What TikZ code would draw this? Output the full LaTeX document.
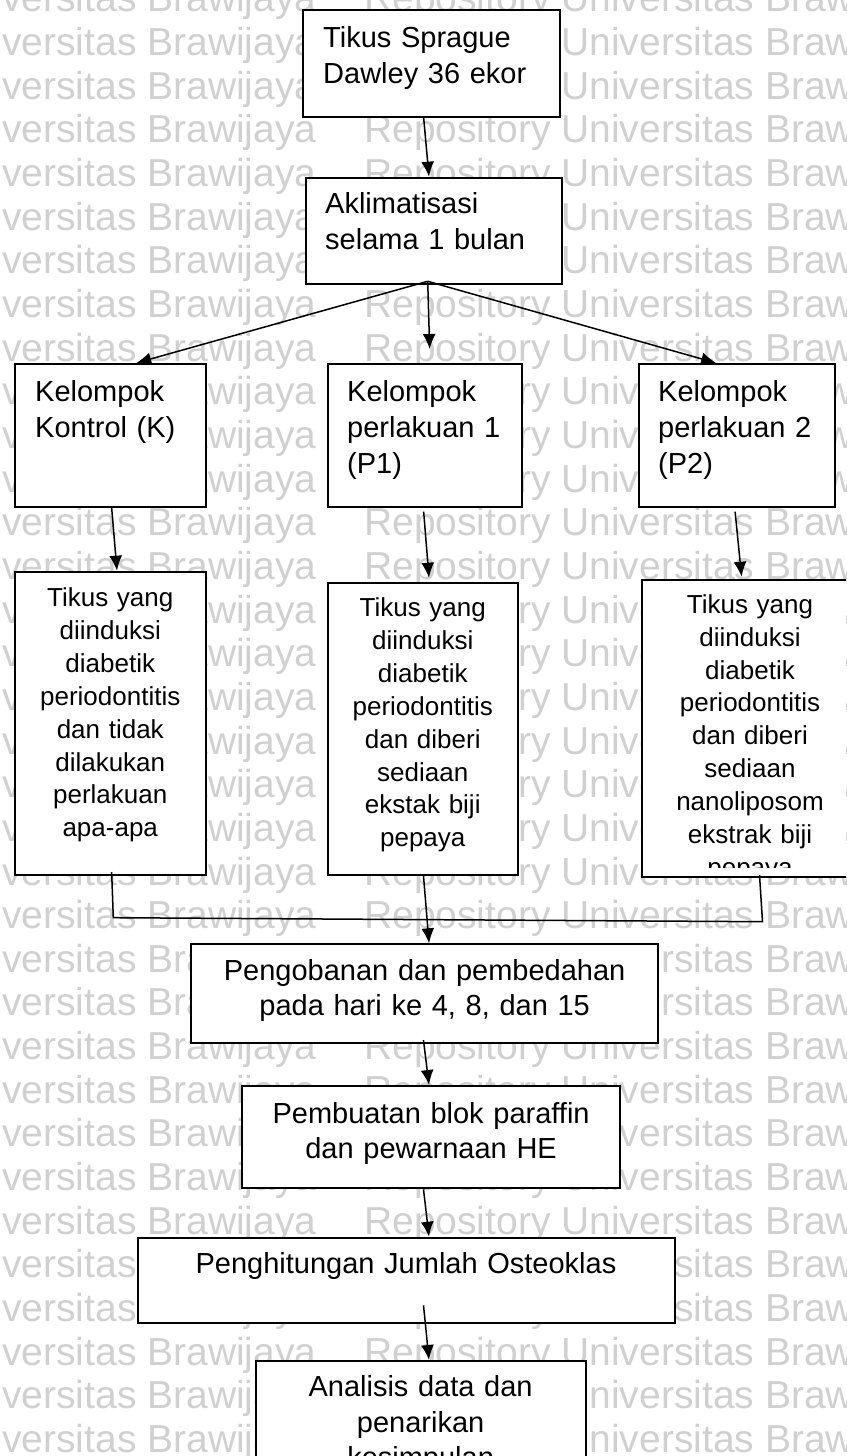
\documentclass[tikz,border=0pt]{standalone}
\usepackage{fontspec}
\setmainfont{Liberation Sans}
\usepackage{tikz}
\usetikzlibrary{arrows.meta}
\tikzset{>={Latex[length=15pt,width=13pt]}}
\definecolor{abu}{RGB}{208, 208, 208}
\tikzset{
  kotak/.style={draw, line width=2pt, fill=white, inner sep=0pt, anchor=north west},
  teksA/.style={inner sep=0pt, text width=240pt, align=left, anchor=base west, font=\fontsize{29}{36}\selectfont},
  teksB/.style={inner sep=0pt, text width=180pt, align=center, anchor=base, font=\fontsize{26}{32.86}\selectfont},
  teksC/.style={inner sep=0pt, text width=470pt, align=center, anchor=base, font=\fontsize{29}{35.5}\selectfont},
  panah/.style={->, line width=1.5pt},
  garis/.style={line width=1.5pt},
  tanda/.style={inner sep=0pt, anchor=base west, text=abu, font=\fontsize{39}{44}\selectfont}
}

\begin{document}
\begin{tikzpicture}[x=1pt, y=-1pt]
\useasboundingbox (0,0) rectangle (846,1456);
\clip (0,0) rectangle (846,1456);
% watermark rows
\foreach \k in {0,...,33} {
  \node[tanda] (wmA\k) at (-56.5, {12+43.65*\k}) {Universitas Brawijaya};
  \node[tanda] (wmB\k) at (364, {12+43.65*\k}) {Repository Universitas Brawijaya};
}

% boxes
\node[kotak, minimum width=256.5pt, minimum height=106.7pt] (tikus) at (302,9) {};
\node[kotak, minimum width=256pt, minimum height=106.6pt] (aklim) at (305,176.7) {};
\node[kotak, minimum width=191.5pt, minimum height=142.7pt] (kontrol) at (13.5,363) {};
\node[kotak, minimum width=194.3pt, minimum height=142.7pt] (p1) at (326.5,363) {};
\node[kotak, minimum width=195.4pt, minimum height=142.7pt] (p2) at (638.4,363) {};
\node[kotak, minimum width=191.5pt, minimum height=303.3pt] (kontrolB) at (13.5,570.7) {};
\node[kotak, minimum width=190.5pt, minimum height=292.3pt] (p1B) at (326.5,581.7) {};
\node[kotak, minimum width=218.8pt, minimum height=296.7pt] (p2B) at (640.6,579) {};
\node[kotak, minimum width=467.3pt, minimum height=99pt] (korban) at (190,943.3) {};
\node[kotak, minimum width=377.8pt, minimum height=102.3pt] (blok) at (241.2,1085) {};
\node[kotak, minimum width=537pt, minimum height=85pt] (hitung) at (136.5,1236.7) {};
\node[kotak, minimum width=329.8pt, minimum height=140pt] (analisis) at (254.7,1360) {};

% texts
\node[teksA] (tikusT) at ([xshift=21pt, yshift=-38pt]tikus.north west) {Tikus Sprague\\Dawley 36 ekor};
\node[teksA] (aklimT) at ([xshift=20pt, yshift=-36.3pt]aklim.north west) {Aklimatisasi\\selama 1 bulan};
\node[teksA] (kontrolT) at ([xshift=21.5pt, yshift=-38.7pt]kontrol.north west) {Kelompok\\Kontrol (K)};
\node[teksA] (p1T) at ([xshift=20.5pt, yshift=-38.7pt]p1.north west) {Kelompok\\perlakuan 1\\(P1)};
\node[teksA] (p2T) at ([xshift=19.6pt, yshift=-38.7pt]p2.north west) {Kelompok\\perlakuan 2\\(P2)};
\node[teksB] (kontrolBT) at ([yshift=-36pt]kontrolB.north) {Tikus yang\\diinduksi\\diabetik\\periodontitis\\dan tidak\\dilakukan\\perlakuan\\apa-apa};
\node[teksB] (p1BT) at ([yshift=-35pt]p1B.north) {Tikus yang\\diinduksi\\diabetik\\periodontitis\\dan diberi\\sediaan\\ekstak biji\\pepaya};
\begin{scope}
\clip (640,579) rectangle (846,867);
\node[teksB] (p2BT) at (750,613.3) {Tikus yang\\diinduksi\\diabetik\\periodontitis\\dan diberi\\sediaan\\nanoliposom\\ekstrak biji\\pepaya};
\end{scope}
\node[teksC] (korbanT) at ([yshift=-36.7pt]korban.north) {Pengobanan dan pembedahan\\pada hari ke 4, 8, dan 15};
\node[teksC] (blokT) at ([yshift=-38.3pt]blok.north) {Pembuatan blok paraffin\\dan pewarnaan HE};
\node[teksC] (hitungT) at ([yshift=-36.6pt]hitung.north) {Penghitungan Jumlah Osteoklas};
\node[teksC] (analisisT) at ([yshift=-36.7pt]analisis.north) {Analisis data dan\\penarikan\\kesimpulan};

% connectors
\draw[panah] ([xshift=-7.6pt]tikus.south) -- ([xshift=-5pt]aklim.north);
\coordinate (cabang) at ([xshift=-6.3pt, yshift=4pt]aklim.south);
\draw[panah] (cabang) -- ([xshift=26pt]kontrol.north);
\draw[panah] (cabang) -- ([xshift=5pt, yshift=14pt]p1.north);
\draw[panah] (cabang) -- ([xshift=-21pt]p2.north);
\draw[panah] ([xshift=1.4pt]kontrol.south) -- ([xshift=6.75pt]kontrolB.north);
\draw[panah] ([xshift=-1pt, yshift=-4pt]p1.south) -- ([xshift=6.25pt, yshift=4pt]p1B.north);
\draw[panah] ([xshift=-2pt, yshift=-4pt]p2.south) -- ([xshift=-9.4pt, yshift=2.3pt]p2B.north);
\coordinate (gabKiri) at (113.3,917.7);
\coordinate (gabKanan) at (762.5,921.7);
\draw[garis] ([xshift=1.4pt, yshift=4pt]kontrolB.south) -- (gabKiri) -- (gabKanan) -- ([xshift=8.5pt, yshift=2.7pt]p2B.south);
\draw[panah] ([xshift=0.75pt]p1B.south) -- ([xshift=4.4pt]korban.north);
\draw[panah] ([xshift=-1.2pt, yshift=4.3pt]korban.south) -- ([xshift=-2.1pt]blok.north);
\draw[panah] ([xshift=-7.6pt]blok.south) -- ([xshift=23pt]hitung.north);
\draw[panah] ([xshift=17.5pt, yshift=18.4pt]hitung.south) -- ([xshift=8.4pt]analisis.north);
\end{tikzpicture}
\end{document}
